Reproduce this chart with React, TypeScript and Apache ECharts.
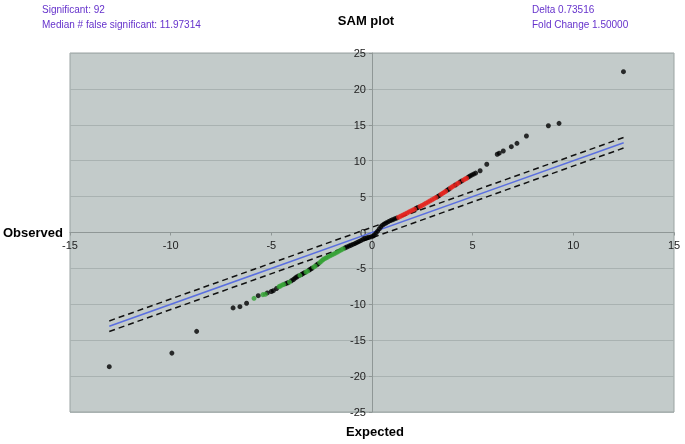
import React, { useEffect, useRef } from "react";
import * as echarts from "echarts";

// ---- data ----
const xTicks = [-15, -10, -5, 0, 5, 10, 15];
const yTicks = [-25, -20, -15, -10, -5, 0, 5, 10, 15, 20, 25];
const delta = 0.73516;
const lineX = [-13.05, 12.5];

const blackPts: number[][] = [
  [-13.05, -18.69], [-9.94, -16.8], [-8.71, -13.77], [-6.9, -10.5], [-6.56, -10.33], [-6.23, -9.85],
  [-5.65, -8.8], [-5.2, -8.42], [-5.0, -8.22], [-4.9, -8.1], [-4.74, -7.8],
  [-4.28, -7.12], [-4.18, -7.0], [-4.0, -6.72], [-3.9, -6.55], [-3.82, -6.35], [-3.74, -6.2], [-3.65, -6.05],
  [-3.5, -5.85], [-3.42, -5.7], [-3.35, -5.6], [-3.12, -5.22], [-3.05, -5.1], [-2.98, -4.98],
  [-2.75, -4.52], [-2.68, -4.38],
  [-1.34, -2.14], [-1.25, -2.02], [-1.15, -1.9], [-1.05, -1.78], [-0.95, -1.66], [-0.85, -1.54], [-0.75, -1.4],
  [-0.65, -1.26], [-0.55, -1.12], [-0.45, -0.96], [-0.35, -0.84], [-0.25, -0.74], [-0.15, -0.66], [-0.05, -0.6],
  [0.05, -0.5], [0.12, -0.32], [0.2, -0.08], [0.28, 0.2], [0.36, 0.5], [0.44, 0.8], [0.52, 1.02], [0.62, 1.2],
  [0.72, 1.36], [0.82, 1.52], [0.92, 1.66], [1.02, 1.78], [1.12, 1.9], [1.22, 2.0],
  [2.2, 3.38], [2.28, 3.48], [3.26, 5.0], [3.34, 5.14], [3.74, 5.9], [3.82, 6.04], [4.14, 6.62],
  [4.38, 7.04], [4.46, 7.18], [4.78, 7.72], [4.86, 7.86], [4.95, 8.0], [5.05, 8.14], [5.15, 8.28],
  [5.37, 8.6], [5.7, 9.5], [6.22, 10.9], [6.32, 11.05], [6.52, 11.35], [6.92, 11.95], [7.2, 12.42],
  [7.67, 13.44], [8.76, 14.87], [9.29, 15.2], [12.49, 22.4],
];

const greenPts: number[][] = [
  [-5.86, -9.17], [-5.42, -8.65], [-5.3, -8.6], [-4.62, -7.55], [-4.55, -7.45], [-4.45, -7.3], [-4.38, -7.22],
  [-4.1, -6.9], [-3.58, -5.98], [-3.28, -5.5], [-3.2, -5.38], [-2.9, -4.82], [-2.82, -4.68],
  [-2.6, -4.2], [-2.52, -4.0], [-2.45, -3.82], [-2.38, -3.68], [-2.3, -3.56], [-2.22, -3.46], [-2.12, -3.3],
  [-2.02, -3.16], [-1.92, -3.02], [-1.82, -2.88], [-1.72, -2.72], [-1.62, -2.56], [-1.52, -2.4], [-1.43, -2.26],
];

const redPts: number[][] = [
  [1.32, 2.12], [1.42, 2.26], [1.52, 2.4], [1.62, 2.54], [1.72, 2.68], [1.82, 2.84], [1.92, 2.98], [2.02, 3.12],
  [2.12, 3.26], [2.38, 3.62], [2.48, 3.76], [2.58, 3.92], [2.68, 4.08], [2.78, 4.24], [2.88, 4.4], [2.98, 4.56],
  [3.08, 4.72], [3.18, 4.88], [3.42, 5.3], [3.5, 5.44], [3.58, 5.58], [3.66, 5.74], [3.9, 6.2], [3.98, 6.36],
  [4.06, 6.5], [4.22, 6.76], [4.3, 6.9], [4.54, 7.3], [4.62, 7.44], [4.7, 7.56],
];

const infoLeft = ["Significant: 92", "Median # false significant: 11.97314"];
const infoRight = ["Delta 0.73516", "Fold Change 1.50000"];

const FONT = "'Liberation Sans', Arial, Helvetica, sans-serif";

const W = 685, H = 444;
const G = { left: 70, right: 11, top: 53, bottom: 32 };

export default function App() {
  const ref = useRef<HTMLDivElement>(null);
  useEffect(() => {
    if (!ref.current) return;
    const chart = echarts.init(ref.current, null, { renderer: "svg" });
    const mk = (d: number) => lineX.map((x) => [x, x + d]);
    const xMin = xTicks[0], xMax = xTicks[xTicks.length - 1];
    const yMin = yTicks[0], yMax = yTicks[yTicks.length - 1];
    const gw = W - G.left - G.right, gh = H - G.top - G.bottom;
    // move each axis onto the other's zero via a negative offset
    const yAxisOffset = -((0 - xMin) / (xMax - xMin)) * gw;
    const xAxisOffset = -((0 - yMin) / (yMax - yMin)) * gh;
    chart.setOption({
      animation: false,
      textStyle: { fontFamily: FONT },
      grid: {
        ...G,
        show: true, backgroundColor: "#c3cbca", borderColor: "#9aa3a2", borderWidth: 1,
      },
      xAxis: {
        type: "value", min: xMin, max: xMax, interval: 5, position: "bottom", offset: xAxisOffset,
        axisLine: { onZero: false, lineStyle: { color: "#8f9796", width: 1 } },
        axisTick: { show: true, length: 3, lineStyle: { color: "#8f9796" } },
        axisLabel: { color: "#222", fontSize: 11, margin: 7, fontFamily: FONT },
        splitLine: { show: false },
      },
      yAxis: {
        type: "value", min: yMin, max: yMax, interval: 5, position: "left", offset: yAxisOffset,
        axisLine: { onZero: false, lineStyle: { color: "#8f9796", width: 1 } },
        axisTick: { show: true, length: 3, lineStyle: { color: "#8f9796" } },
        axisLabel: { color: "#222", fontSize: 11, margin: 6, fontFamily: FONT },
        splitLine: { show: true, lineStyle: { color: "#a9b2b1", width: 1 } },
      },
      series: [
        { type: "line", data: mk(0), symbol: "none", lineStyle: { color: "#5a6fe0", width: 1.5 }, z: 2 },
        { type: "line", data: mk(delta), symbol: "none", lineStyle: { color: "#111", width: 1.5, type: [6, 4] }, z: 2 },
        { type: "line", data: mk(-delta), symbol: "none", lineStyle: { color: "#111", width: 1.5, type: [6, 4] }, z: 2 },
        { type: "scatter", data: blackPts, symbolSize: 5, itemStyle: { color: "#000" }, z: 3 },
        { type: "scatter", data: greenPts, symbolSize: 5, itemStyle: { color: "#33a133" }, z: 4 },
        { type: "scatter", data: redPts, symbolSize: 5, itemStyle: { color: "#e5221b" }, z: 4 },
      ],
      graphic: [
        { type: "text", left: 42, top: 4, style: { text: infoLeft[0], fill: "#6633cc", font: `10px ${FONT}` } },
        { type: "text", left: 42, top: 19, style: { text: infoLeft[1], fill: "#6633cc", font: `10px ${FONT}` } },
        { type: "text", left: 532, top: 4, style: { text: infoRight[0], fill: "#6633cc", font: `10px ${FONT}` } },
        { type: "text", left: 532, top: 19, style: { text: infoRight[1], fill: "#6633cc", font: `10px ${FONT}` } },
        { type: "text", x: 366, y: 20, style: { text: "SAM plot", fill: "#000", font: `bold 13px ${FONT}`, align: "center", verticalAlign: "middle" } },
        { type: "text", x: 3, y: 232, style: { text: "Observed", fill: "#000", font: `bold 13px ${FONT}`, align: "left", verticalAlign: "middle" } },
        { type: "text", x: 375, y: 431, style: { text: "Expected", fill: "#000", font: `bold 13px ${FONT}`, align: "center", verticalAlign: "middle" } },
      ],
    });
    return () => chart.dispose();
  }, []);
  return <div ref={ref} style={{ position: "fixed", left: 0, top: 0, width: W, height: H }} />;
}
